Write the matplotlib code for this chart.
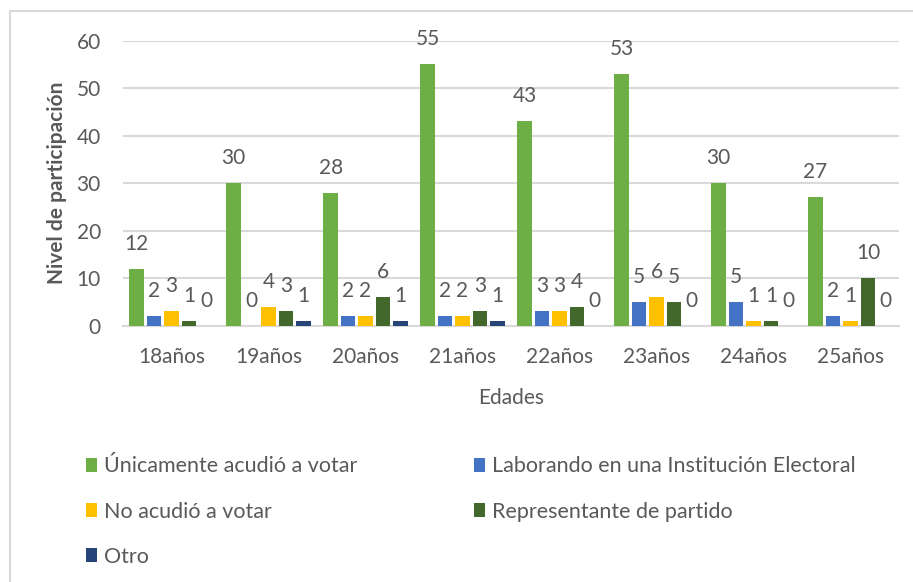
import numpy as np
import matplotlib.pyplot as plt
from matplotlib.patches import Patch, Rectangle

plt.rcParams['font.family'] = ['Lato', 'DejaVu Sans']

# datos
edades = ['18años', '19años', '20años', '21años', '22años', '23años', '24años', '25años']
unicamente = [12, 30, 28, 55, 43, 53, 30, 27]
laborando = [2, 0, 2, 2, 3, 5, 5, 2]
no_acudio = [3, 4, 2, 2, 3, 6, 1, 1]
representante = [1, 3, 6, 3, 4, 5, 1, 10]
otro = [0, 1, 1, 1, 0, 0, 0, 0]

series = [
    ('Únicamente acudió a votar', unicamente, '#6DAE45'),
    ('Laborando en una Institución Electoral', laborando, '#4472C4'),
    ('No acudió a votar', no_acudio, '#FFC000'),
    ('Representante de partido', representante, '#43682B'),
    ('Otro', otro, '#264478'),
]

gris = '#595959'

fig = plt.figure(figsize=(9.13, 5.82), dpi=100)
ax = fig.add_axes([0.1347, 0.4404, 0.85, 0.4897])

x = np.arange(len(edades))
slot = 0.18
width = 0.152
for i, (name, vals, color) in enumerate(series):
    pos = x + (i - 2) * slot
    ax.bar(pos, vals, width, color=color, zorder=3)
    for px_, v in zip(pos, vals):
        ax.annotate(str(v), (px_, v), xytext=(0, 18), textcoords='offset points',
                    ha='center', va='center', fontsize=15, color=gris)

ax.set_xlim(-0.5, len(edades) - 0.5)
ax.set_ylim(0, 60)
ax.set_yticks(range(0, 61, 10))
ax.set_xticks(x)
ax.set_xticklabels(edades)
ax.grid(axis='y', color='#D9D9D9', linewidth=1.5, zorder=0)
ax.tick_params(axis='both', length=0, labelsize=15, colors=gris)
ax.tick_params(axis='y', pad=16)
ax.tick_params(axis='x', pad=15.5)
for s in ['top', 'right', 'left']:
    ax.spines[s].set_visible(False)
ax.spines['bottom'].set_color('#D9D9D9')
ax.spines['bottom'].set_linewidth(1.5)

ax.set_xlabel('Edades', fontsize=15, color=gris, labelpad=15)
ax.set_ylabel('Nivel de participación', fontsize=15, color=gris, fontweight='bold', labelpad=7)

# leyenda en dos columnas (orden por columnas)
order = [0, 2, 4, 1, 3]
handles = [Patch(facecolor=series[i][2]) for i in order]
labels = [series[i][0] for i in order]
fig.legend(handles, labels, ncol=2, loc='upper left', bbox_to_anchor=(0.073, 0.249),
           frameon=False, fontsize=15.5, labelcolor=gris, handlelength=0.5, handleheight=0.6,
           handletextpad=0.35, labelspacing=1.17, columnspacing=5.4)

# marco del grafico
fig.patches.append(Rectangle((0.011, -0.1), 1.2, 0.1 + 0.981, transform=fig.transFigure,
                             fill=False, edgecolor='#D9D9D9', linewidth=1.5))

fig.savefig('out.png', dpi=100)
